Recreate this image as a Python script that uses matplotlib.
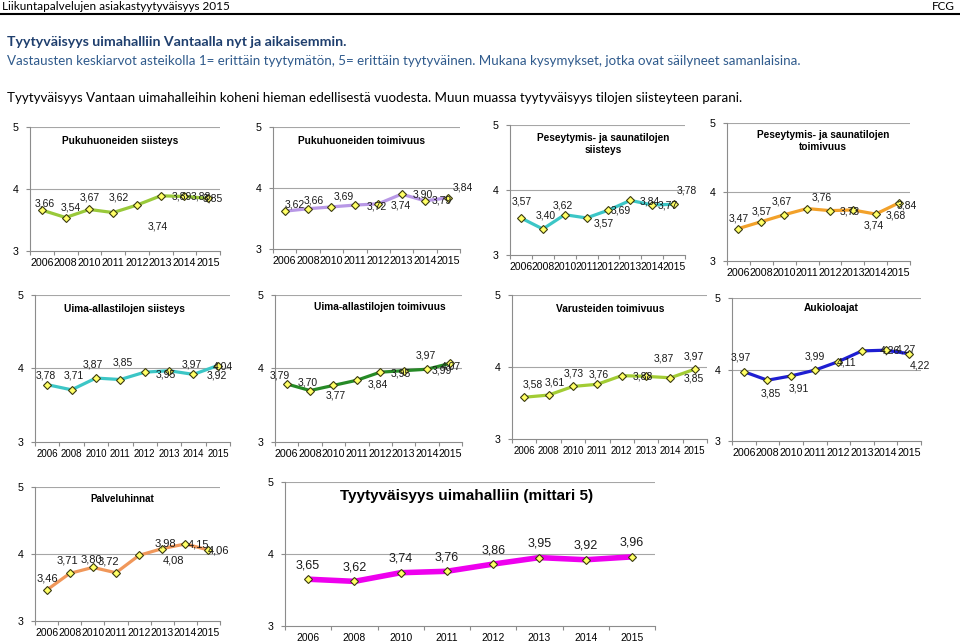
import matplotlib
matplotlib.use('Agg')
import matplotlib.pyplot as plt

# kaikki kaaviot: vuodet ja keskiarvot (asteikko 1-5)
years = ['2006', '2008', '2010', '2011', '2012', '2013', '2014', '2015']

puku_siisteys = [3.66, 3.54, 3.67, 3.62, 3.74, 3.89, 3.88, 3.85]
puku_toimivuus = [3.62, 3.66, 3.69, 3.72, 3.74, 3.90, 3.79, 3.84]
pesu_siisteys = [3.57, 3.40, 3.62, 3.57, 3.69, 3.84, 3.77, 3.78]
pesu_toimivuus = [3.47, 3.57, 3.67, 3.76, 3.73, 3.74, 3.68, 3.84]
allas_siisteys = [3.78, 3.71, 3.87, 3.85, 3.95, 3.97, 3.92, 4.04]
allas_toimivuus = [3.79, 3.70, 3.77, 3.84, 3.95, 3.97, 3.99, 4.07]
varusteet = [3.58, 3.61, 3.73, 3.76, 3.88, 3.87, 3.85, 3.97]
aukioloajat = [3.97, 3.85, 3.91, 3.99, 4.11, 4.26, 4.27, 4.22]
palveluhinnat = [3.46, 3.71, 3.80, 3.72, 3.98, 4.08, 4.15, 4.06]
mittari5 = [3.65, 3.62, 3.74, 3.76, 3.86, 3.95, 3.92, 3.96]

W, H = 960, 642
fig = plt.figure(figsize=(W / 100, H / 100), dpi=100)
fig.patch.set_facecolor('white')

HEAD = ['Lato', 'DejaVu Sans']
ARIAL = ['Liberation Sans', 'DejaVu Sans']
NARROW = ['Liberation Sans Narrow', 'Liberation Sans', 'DejaVu Sans']


def fx(x):
    return x / W


def fy(y):
    return 1 - y / H


# otsikkorivi
fig.text(fx(2), fy(7), 'Liikuntapalvelujen asiakastyytyväisyys 2015', family=HEAD,
         fontsize=8.5, va='center', ha='left')
fig.text(fx(955), fy(7), 'FCG', family=HEAD, fontsize=8.5, va='center', ha='right')
fig.add_artist(plt.Line2D([0, 1], [fy(14), fy(14)], color='black', lw=1.5))

fig.text(fx(7), fy(42), 'Tyytyväisyys uimahalliin Vantaalla nyt ja aikaisemmin.', family=HEAD,
         fontsize=10.2, weight='bold', color='#1f3f6e', va='center')
fig.text(fx(7), fy(61), 'Vastausten keskiarvot asteikolla 1= erittäin tyytymätön, 5= erittäin tyytyväinen. '
         'Mukana kysymykset, jotka ovat säilyneet samanlaisina.', family=HEAD,
         fontsize=9.6, color='#2f5a8c', va='center')
fig.text(fx(7), fy(98), 'Tyytyväisyys Vantaan uimahalleihin koheni hieman edellisestä vuodesta. '
         'Muun muassa tyytyväisyys tilojen siisteyteen parani.', family=HEAD,
         fontsize=9.6, color='black', va='center')

# (otsikko, arvot, väri, laatikko x0 x1 y5 y3, otsikon paikka, otsikon koko, nimiöiden siirrot)
panels = [
    ('Pukuhuoneiden siisteys', puku_siisteys, '#99c93a', (30, 220, 127, 251), (120, 141), 7.3,
     [(3, 7), (5, 10), (0, 12), (6, 15), (21, -21), (21, -1), (16, 0), (5, 0)], 7.5, 7.7, 'cram'),
    ('Pukuhuoneiden toimivuus', puku_toimivuus, '#b898e6', (273, 460, 127, 249), (361, 141), 7.3,
     [(10, 7), (6, 8), (12, 10), (22, -1), (23, -2), (21, 0), (17, 0), (14, 10)], 7.5, 7.7, 'cram'),
    ('Peseytymis- ja saunatilojen\nsiisteys', pesu_siisteys, '#3cc6c6', (510, 685, 125, 255), (603, 144), 7.3,
     [(1, 16), (3, 13), (-2, 9), (17, -6), (12, 0), (19, -1), (16, -1), (13, 14)], 7.5, 7.5, 'cram'),
    ('Peseytymis- ja saunatilojen\ntoimivuus', pesu_toimivuus, '#f2a12a', (727, 910, 123, 261), (823, 141), 7.3,
     [(0, 10), (0, 10), (-2, 13), (15, 11), (20, -1), (21, -16), (20, -1), (8, -2)], 7.5, 7.7, 'cram'),
    ('Uima-allastilojen siisteys', allas_siisteys, '#3cc6c6', (35, 230, 295, 442), (124, 309), 7.3,
     [(-1, 9), (2, 14), (-3, 14), (2, 17), (21, -2), (23, 6), (23, -1), (5, -1)], 7.5, 7, 'space'),
    ('Uima-allastilojen toimivuus', allas_toimivuus, '#268a26', (275, 462, 295, 442), (380, 307), 7.3,
     [(-7, 8), (-2, 8), (2, -10), (21, -4), (21, -1), (22, 15), (15, -1), (1, -3)], 7.5, 7.7, 'cram'),
    ('Varusteiden toimivuus', varusteet, '#a2cc34', (512, 707, 295, 439), (610, 309), 7.3,
     [(9, 13), (6, 13), (1, 13), (1, 10), (21, -1), (18, 18), (23, -1), (-1, 13)], 7.5, 7, 'space'),
    ('Aukioloajat', aukioloajat, '#1e1ed2', (732, 921, 298, 441), (831, 308), 7.3,
     [(-3, 14), (3, -13), (8, -13), (0, 14), (8, -1), (28, 0), (20, 1), (11, -12)], 7.5, 7.7, 'cram'),
    ('Palveluhinnat', palveluhinnat, '#f0975a', (35, 220, 487, 621), (122, 499), 7,
     [(1, 12), (-2, 13), (-1, 8), (-8, 11), (26, 12), (11, -12), (13, -1), (10, -1)], 8, 7.5, 'narrow'),
    ('Tyytyväisyys uimahalliin (mittari 5)', mittari5, '#ee00ee', (285, 655, 482, 626), (467, 496), 11,
     [(0, 14)] * 8, 9, 7.5, 'wide'),
]

for title, vals, color, box, tpos, tsize, offs, lsize, xsize, kind in panels:
    x0, x1, ytop, ybot = box
    ax = fig.add_axes([fx(x0), fy(ybot), (x1 - x0) / W, (ybot - ytop) / H])
    ax.set_xlim(-0.5, 7.5)
    ax.set_ylim(3, 5)
    ax.axhline(4, color='#a6a6a6', lw=0.8, zorder=1)
    ax.axhline(5, color='#a6a6a6', lw=0.8, zorder=1)
    for s in ['top', 'right']:
        ax.spines[s].set_visible(False)
    for s in ['left', 'bottom']:
        ax.spines[s].set_color('#8c8c8c')
        ax.spines[s].set_linewidth(0.8)

    lw = 4.0 if kind == 'wide' else 2.3
    ax.plot(range(len(vals)), vals, color=color, lw=lw, zorder=2, solid_capstyle='round')
    ax.plot(range(len(vals)), vals, ls='none', marker='D', ms=4.4, mfc='#ffff66',
            mec='#3a3a10', mew=0.8, zorder=3)

    lfam = NARROW if kind in ('narrow', 'wide') else ARIAL
    for i, v in enumerate(vals):
        ax.annotate(f'{v:.2f}'.replace('.', ','), (i, v), xytext=offs[i], textcoords='offset pixels',
                    ha='center', va='center', fontsize=lsize, family=lfam, color='#1a1a1a', zorder=4)

    ax.set_yticks([3, 4, 5])
    ax.set_yticklabels(['3', '4', '5'], family=ARIAL, fontsize=7.7)
    ax.set_xticks(range(8))
    ax.set_xticklabels(years, family=NARROW if kind in ('narrow', 'wide') else ARIAL, fontsize=xsize)
    ax.set_xticks([i - 0.5 for i in range(9)], minor=True)
    ax.tick_params(axis='x', which='major', length=0, pad=5)
    ax.tick_params(axis='x', which='minor', length=3, color='#8c8c8c', width=0.8)
    ax.tick_params(axis='y', length=3, color='#8c8c8c', width=0.8, pad=5)
    ax.set_facecolor('none')

    fig.text(fx(tpos[0]), fy(tpos[1]), title, family=ARIAL, fontsize=tsize, weight='bold',
             ha='center', va='center', linespacing=1.15)

fig.savefig('out.png', dpi=100)
